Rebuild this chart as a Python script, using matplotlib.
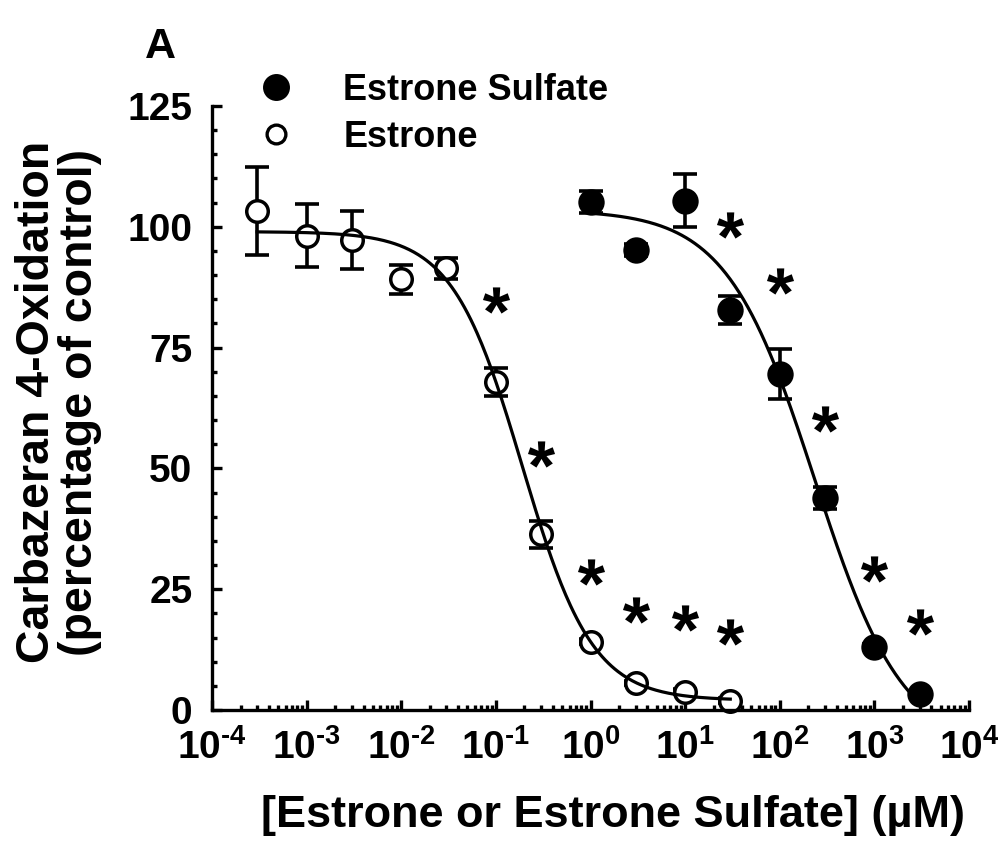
import numpy as np
import matplotlib
matplotlib.use("Agg")
import matplotlib.pyplot as plt
from matplotlib.lines import Line2D
from matplotlib.path import Path
from matplotlib.textpath import TextPath
from matplotlib.font_manager import FontProperties
from matplotlib.ticker import LogLocator, MultipleLocator, NullFormatter, FuncFormatter

plt.rcParams["font.family"] = "Liberation Sans"
plt.rcParams["font.weight"] = "bold"
plt.rcParams["axes.labelweight"] = "bold"
plt.rcParams["mathtext.fontset"] = "custom"
plt.rcParams["mathtext.rm"] = "Liberation Sans:bold"
plt.rcParams["mathtext.it"] = "Liberation Sans:bold"
plt.rcParams["mathtext.bf"] = "Liberation Sans:bold"
plt.rcParams["mathtext.default"] = "rm"

# data (uM, % of control, SEM)
estrone_x = [3e-4, 1e-3, 3e-3, 1e-2, 3e-2, 1e-1, 3e-1, 1, 3, 10, 30]
estrone_y = [103.3, 98.2, 97.3, 89.1, 91.4, 67.8, 36.4, 14.1, 5.6, 3.8, 1.9]
estrone_err = [9.1, 6.5, 6.0, 3.0, 2.1, 2.9, 2.8, 0.5, 0.5, 0.5, 0.5]

sulfate_x = [1, 3, 10, 30, 100, 300, 1000, 3000]
sulfate_y = [105.1, 95.2, 105.4, 82.8, 69.5, 43.8, 13.1, 3.4]
sulfate_err = [2.3, 1.2, 5.5, 2.9, 5.2, 2.3, 0.5, 0.5]

# fitted curve parameters: top, bottom, IC50, hill slope
estrone_fit = [99.0, 2.0, 0.19, 1.17]
sulfate_fit = [103.5, -8.0, 234.0, 0.93]

# significance marks
estrone_star_x = [0.1, 0.3, 1, 3, 10, 30]
estrone_star_y = [84.9, 53.0, 28.6, 20.8, 19.0, 16.2]
sulfate_star_x = [30, 100, 300, 1000, 3000]
sulfate_star_y = [100.4, 88.8, 60.3, 29.2, 18.3]


def hill(x, top, bottom, ic50, n):
    return bottom + (top - bottom) / (1 + (x / ic50) ** n)


# asterisk marker centred on its glyph
tp = TextPath((0, 0), "*", size=1,
              prop=FontProperties(family="Liberation Sans", weight="bold"))
v = tp.vertices.copy()
real = tp.codes != Path.CLOSEPOLY
v = v - (v[real].min(axis=0) + v[real].max(axis=0)) / 2
v[~real] = 0
star = Path(v, tp.codes)

fig = plt.figure(figsize=(10.03, 8.48), dpi=100)
ax = fig.add_axes([0.2114, 0.1627, 0.7547, 0.7123])

lw = 2.4
ebkw = dict(fmt="none", ecolor="black", elinewidth=2.6, capsize=8.3,
            capthick=2.6, zorder=1, clip_on=False)
ax.errorbar(estrone_x, estrone_y, yerr=estrone_err, **ebkw)
ax.errorbar(sulfate_x, sulfate_y, yerr=sulfate_err, **ebkw)

ax.plot(estrone_x, estrone_y, "o", ms=15.5, mfc="white", mec="black",
        mew=2.5, zorder=2, clip_on=False)
ax.plot(sulfate_x, sulfate_y, "o", ms=16.5, mfc="black", mec="black",
        mew=2.5, zorder=2, clip_on=False)

xs = np.logspace(np.log10(estrone_x[0]), np.log10(estrone_x[-1]), 300)
ax.plot(xs, hill(xs, *estrone_fit), color="black", lw=2.3, zorder=3)
xs = np.logspace(np.log10(sulfate_x[0]), np.log10(sulfate_x[-1]), 300)
ax.plot(xs, hill(xs, *sulfate_fit), color="black", lw=2.3, zorder=3,
        clip_on=False)

ax.plot(estrone_star_x, estrone_star_y, ls="none", marker=star, ms=19.5,
        color="black", mew=0, zorder=3)
ax.plot(sulfate_star_x, sulfate_star_y, ls="none", marker=star, ms=19.5,
        color="black", mew=0, zorder=3)

ax.set_xscale("log")
ax.set_xlim(1e-4, 1e4)
ax.set_ylim(0, 125)
ax.xaxis.set_major_locator(LogLocator(base=10, numticks=20))
ax.xaxis.set_major_formatter(FuncFormatter(
    lambda val, pos: r"$10^{\text{%s}}$" % int(round(np.log10(val)))))
ax.xaxis.set_minor_locator(LogLocator(base=10, subs=np.arange(2, 10), numticks=20))
ax.xaxis.set_minor_formatter(NullFormatter())
ax.yaxis.set_major_locator(MultipleLocator(25))
ax.yaxis.set_minor_locator(MultipleLocator(5))

for s in ["top", "right"]:
    ax.spines[s].set_visible(False)
for s in ["left", "bottom"]:
    ax.spines[s].set_linewidth(lw)

ax.tick_params(which="major", direction="in", length=7.5, width=lw)
ax.tick_params(which="minor", direction="in", length=3.8, width=lw)
ax.tick_params(axis="y", which="major", labelsize=28, pad=14)
ax.tick_params(axis="x", which="major", labelsize=28, pad=14)

ax.set_xlabel("[Estrone or Estrone Sulfate] (\u00b5M)", fontsize=32.5)
ax.xaxis.set_label_coords(0.53, -0.14)
ax.set_ylabel("Carbazeran 4-Oxidation\n(percentage of control)",
              fontsize=33.5, linespacing=0.98)
ax.yaxis.set_label_coords(-0.145, 0.51)

handles = [
    Line2D([], [], ls="none", marker="o", ms=17, mfc="black", mec="black", mew=lw),
    Line2D([], [], ls="none", marker="o", ms=13.5, mfc="white", mec="black", mew=lw),
]
ax.legend(handles, ["Estrone Sulfate", "Estrone"], loc="center left",
          bbox_to_anchor=(0.061, 0.987), frameon=False, fontsize=26,
          handlelength=1.0, handletextpad=1.36, labelspacing=0.34,
          borderpad=0, borderaxespad=0)

fig.text(0.16, 0.945, "A", fontsize=31, ha="center", va="center")

fig.savefig("out.png", dpi=100)
